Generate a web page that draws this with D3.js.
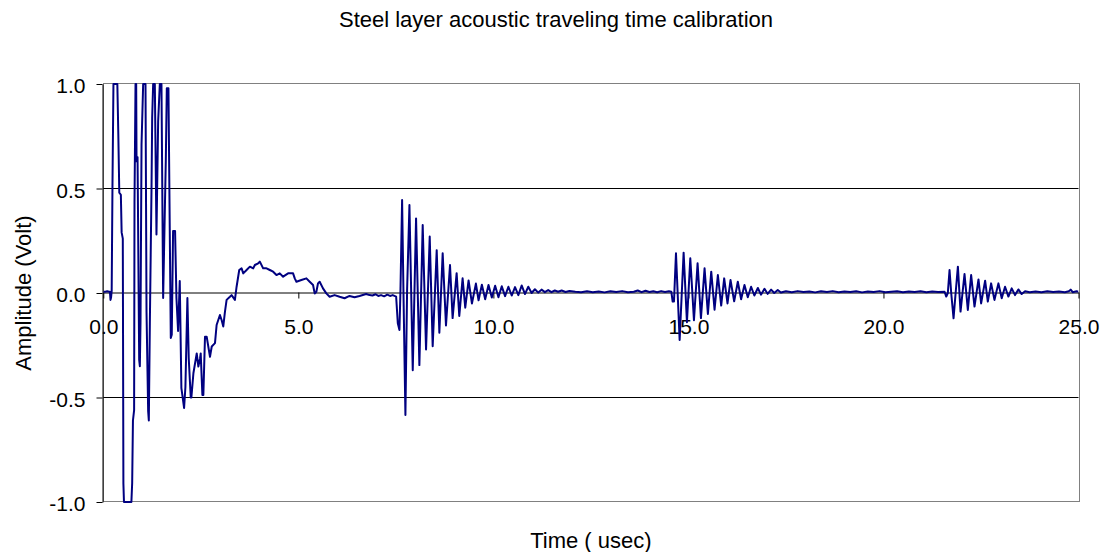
<!DOCTYPE html>
<html>
<head>
<meta charset="utf-8">
<script src="https://cdn.jsdelivr.net/npm/d3@7"></script>
<style>
  html, body { margin: 0; padding: 0; background: #fff; }
  svg { display: block; font-family: "Liberation Sans", Arial, sans-serif; }
</style>
</head>
<body>
<svg id="chart" width="1116" height="552"></svg>
<script>
// ---- Data: transducer signal, time in microseconds, amplitude in volts ----

// Excitation burst (amplifier saturates at +/-1 V)
const burstTime = [0.00, 0.05, 0.10, 0.15, 0.17, 0.185, 0.20, 0.215, 0.235, 0.26, 0.36, 0.385, 0.41, 0.45, 0.47, 0.50, 0.515, 0.53,
  0.72, 0.74, 0.76, 0.79, 0.80, 0.826, 0.843, 0.852, 0.878, 0.92, 0.937, 0.954, 0.98, 1.022, 1.082, 1.108, 1.133, 1.150, 1.167,
  1.193, 1.236, 1.253, 1.278, 1.321, 1.363, 1.406, 1.449, 1.491, 1.534, 1.602, 1.628, 1.670, 1.704, 1.730, 1.755, 1.789, 1.840,
  1.875, 1.917, 1.960, 2.002, 2.071, 2.105, 2.156, 2.19, 2.242, 2.258];
const burstAmp = [0.006, 0.006, 0.008, 0.006, 0.006, -0.033, -0.02, 0.01, 0.51, 1.0, 1.0, 0.76, 0.48, 0.47, 0.29, 0.26, -0.91, -1.0,
  -1.0, -0.91, -0.61, -0.56, 0.44, 1.0, 1.0, 0.63, 0.65, -0.32, -0.35, -0.14, 0.71, 1.0, 1.0, -0.09, -0.375, -0.566, -0.61,
  -0.15, 0.5, 0.84, 1.0, 1.0, 0.28, 0.82, 1.0, 1.0, -0.024, 0.63, 0.98, 0.98, 0.295, -0.215, -0.2, 0.297, 0.297,
  -0.024, -0.182, 0.057, -0.455, -0.55, -0.45, -0.024, -0.311, -0.5, -0.5];

// Recovery and slow positive hump
const recoveryTime = [2.31, 2.395, 2.437, 2.48, 2.497, 2.54, 2.565, 2.607, 2.65, 2.735, 2.78, 2.863, 2.905, 2.99, 3.033, 3.076,
  3.119, 3.161, 3.246, 3.289, 3.374, 3.417, 3.485, 3.545, 3.588, 3.673, 3.758, 3.843, 3.886, 3.971, 4.013, 4.098, 4.184, 4.269,
  4.354, 4.439, 4.524, 4.610, 4.737, 4.865, 4.908, 4.951, 5.078, 5.206, 5.291, 5.377, 5.419, 5.462, 5.504, 5.547, 5.632, 5.717,
  5.802, 5.930, 6.058, 6.185, 6.313, 6.441, 6.569, 6.739, 6.824, 6.90, 6.98, 7.05, 7.12, 7.20, 7.28, 7.35, 7.42, 7.507];
const recoveryAmp = [-0.384, -0.289, -0.352, -0.313, -0.289, -0.488, -0.488, -0.209, -0.209, -0.305, -0.256, -0.24, -0.153, -0.105, -0.129, -0.16,
  -0.089, -0.033, -0.018, -0.01, -0.033, 0.03, 0.11, 0.118, 0.094, 0.11, 0.126, 0.118, 0.134, 0.142, 0.15, 0.118, 0.118, 0.11,
  0.102, 0.086, 0.094, 0.078, 0.094, 0.094, 0.07, 0.054, 0.062, 0.07, 0.054, 0.038, -0.002, 0.006, 0.046, 0.054, 0.022, -0.002,
  -0.018, -0.01, -0.018, -0.025, -0.014, -0.02, -0.014, -0.005, -0.01, -0.012, -0.006, -0.014, -0.01, -0.016, -0.008, -0.014, -0.01, -0.017];

// First back-wall echo
const echo1Time = [7.55, 7.592, 7.618, 7.66, 7.694, 7.745, 7.788, 7.848, 7.933, 8.018, 8.103, 8.188, 8.274, 8.368, 8.444, 8.547,
  8.615, 8.700, 8.785, 8.888, 8.955, 9.058, 9.126, 9.211, 9.279, 9.364, 9.450, 9.552, 9.620, 9.705, 9.790, 9.875, 9.96, 10.045,
  10.13, 10.215, 10.30, 10.385, 10.47, 10.555, 10.64, 10.725, 10.81, 10.895, 10.98, 11.065, 11.15, 11.235, 11.32, 11.405, 11.49,
  11.575, 11.66, 11.75, 11.85, 11.95];
const echo1Amp = [-0.145, -0.177, 0.014, 0.445, 0.014, -0.584, 0.014, 0.421, -0.37, 0.357, -0.345, 0.325, -0.27, 0.27, -0.255, 0.205,
  -0.19, 0.19, -0.155, 0.134, -0.12, 0.095, -0.11, 0.07, -0.07, 0.06, -0.05, 0.045, -0.035, 0.04, -0.03, 0.038, -0.022, 0.035,
  -0.02, 0.032, -0.015, 0.03, -0.012, 0.028, -0.01, 0.036, -0.005, 0.03, 0.0, 0.018, 0.002, 0.016, 0.004, 0.014, 0.004,
  0.012, 0.006, 0.012, 0.005, 0.01];

// Quiet interval before the second echo
const gap1Time = [12.1, 12.25, 12.4, 12.55, 12.7, 12.85, 13.0, 13.15, 13.3, 13.45, 13.6, 13.7, 13.8, 13.9, 14.0, 14.1, 14.2, 14.3, 14.4, 14.5, 14.562];
const gap1Amp = [0.006, 0.004, 0.008, 0.004, 0.007, 0.003, 0.008, 0.005, 0.009, 0.004, 0.006, 0.012, 0.004, 0.011, 0.005, 0.008, 0.004, 0.009, 0.005, 0.008, 0.006];

// Second echo
const echo2Time = [14.596, 14.630, 14.681, 14.775, 14.877, 14.962, 15.048, 15.142, 15.235, 15.321, 15.414, 15.499, 15.585, 15.670,
  15.755, 15.840, 15.917, 16.002, 16.079, 16.173, 16.266, 16.351, 16.437, 16.522, 16.607, 16.69, 16.78, 16.86, 16.95, 17.03,
  17.12, 17.2, 17.29, 17.37];
const echo2Amp = [-0.041, -0.041, 0.19, -0.225, 0.193, -0.14, 0.166, -0.13, 0.142, -0.12, 0.118, -0.10, 0.102, -0.08,
  0.086, -0.06, 0.07, -0.05, 0.062, -0.04, 0.054, -0.03, 0.038, -0.02, 0.03, -0.012, 0.024, -0.008, 0.02, -0.004,
  0.016, 0.0, 0.014, 0.002];

// Quiet interval before the third echo
const gap2Time = [17.5, 17.65, 17.8, 17.95, 18.1, 18.25, 18.4, 18.55, 18.7, 18.85, 19.0, 19.15, 19.3, 19.45, 19.6, 19.75, 19.9,
  20.05, 20.2, 20.35, 20.5, 20.65, 20.8, 20.95, 21.1, 21.25, 21.4, 21.567];
const gap2Amp = [0.008, 0.004, 0.009, 0.005, 0.007, 0.003, 0.008, 0.005, 0.009, 0.004, 0.007, 0.005, 0.008, 0.003, 0.007, 0.005, 0.009,
  0.004, 0.006, 0.008, 0.004, 0.007, 0.005, 0.008, 0.004, 0.007, 0.005, 0.006];

// Third echo and tail of the record
const echo3Time = [21.61, 21.65, 21.694, 21.737, 21.797, 21.85, 21.908, 21.976, 22.078, 22.163, 22.248, 22.334, 22.436, 22.504,
  22.606, 22.675, 22.760, 22.845, 22.947, 23.032, 23.117, 23.203, 23.288, 23.373, 23.458, 23.544, 23.63, 23.75, 23.9, 24.05,
  24.2, 24.35, 24.5, 24.65, 24.75, 24.8, 24.85, 24.95, 25.0];
const echo3Amp = [-0.017, 0.0, 0.11, 0.0, -0.121, 0.0, 0.126, -0.089, 0.091, -0.081, 0.086, -0.065, 0.065, -0.05,
  0.059, -0.041, 0.046, -0.033, 0.046, -0.025, 0.03, -0.017, 0.022, -0.01, 0.017, -0.005, 0.008, 0.004, 0.007, 0.004,
  0.008, 0.005, 0.007, 0.004, 0.008, 0.016, 0.004, 0.008, 0.006];

// Axis ticks
const xTicks = [0, 5, 10, 15, 20, 25];
const yTicks = [-1.0, -0.5, 0.0, 0.5, 1.0];

const titleText = "Steel layer acoustic traveling time calibration";
const xTitle = "Time ( usec)";
const yTitle = "Amplitude (Volt)";

// ---- Assemble the trace ----
const segments = [
  [burstTime, burstAmp], [recoveryTime, recoveryAmp], [echo1Time, echo1Amp],
  [gap1Time, gap1Amp], [echo2Time, echo2Amp], [gap2Time, gap2Amp], [echo3Time, echo3Amp]
];
const trace = [];
segments.forEach(([ts, vs]) => ts.forEach((t, i) => trace.push({ t, v: vs[i] })));

// ---- Layout ----
const svg = d3.select("#chart");
const plot = { left: 103.3, right: 1078.5, top: 84, bottom: 502 };

const x = d3.scaleLinear().domain([0, 25]).range([plot.left, plot.right]);
const y = d3.scaleLinear().domain([-1, 1]).range([plot.bottom, plot.top]);
const crisp = v => Math.round(v) + 0.5;
const fmt = v => v.toFixed(1);

svg.append("defs").append("clipPath").attr("id", "plot-clip")
  .append("rect")
  .attr("x", plot.left).attr("y", plot.top - 1)
  .attr("width", plot.right - plot.left).attr("height", plot.bottom - plot.top + 2);

// Plot-area frame (grey)
svg.append("rect")
  .attr("x", crisp(plot.left)).attr("y", crisp(y(1)) - 1)
  .attr("width", crisp(plot.right) - crisp(plot.left))
  .attr("height", crisp(y(-1)) - crisp(y(1)))
  .attr("fill", "none").attr("stroke", "#808080").attr("stroke-width", 1);

// Horizontal gridlines
svg.append("g").selectAll("line")
  .data(yTicks.filter(v => v !== 1 && v !== -1 && v !== 0))
  .join("line")
  .attr("x1", plot.left).attr("x2", plot.right)
  .attr("y1", d => crisp(y(d)) - 1).attr("y2", d => crisp(y(d)) - 1)
  .attr("stroke", "#000").attr("stroke-width", 1);

// Y axis
const yAxis = svg.append("g")
  .attr("transform", `translate(${crisp(plot.left) - 1},0)`)
  .call(d3.axisLeft(y).tickValues(yTicks).tickFormat(fmt).tickSize(6).tickSizeOuter(0).tickPadding(11));
yAxis.select(".domain").attr("stroke", "#000");
yAxis.selectAll(".tick line").attr("stroke", "#000");
yAxis.selectAll(".tick text")
  .attr("font-size", 21).attr("font-family", "Liberation Sans, Arial, sans-serif")
  .attr("fill", "#000").attr("dy", "0.42em");

// X axis crossing at zero
const xAxis = svg.append("g")
  .attr("transform", `translate(0,${crisp(y(0)) - 1})`)
  .call(d3.axisBottom(x).tickValues(xTicks).tickFormat(fmt).tickSize(6).tickSizeOuter(0).tickPadding(21));
xAxis.select(".domain").attr("stroke", "#000");
xAxis.selectAll(".tick line").attr("stroke", "#000");
xAxis.selectAll(".tick text")
  .attr("font-size", 21).attr("font-family", "Liberation Sans, Arial, sans-serif")
  .attr("fill", "#000");

// Signal trace
const line = d3.line().x(d => x(d.t)).y(d => y(d.v));
svg.append("path")
  .datum(trace)
  .attr("clip-path", "url(#plot-clip)")
  .attr("d", line)
  .attr("fill", "none")
  .attr("stroke", "#000080")
  .attr("stroke-width", 2)
  .attr("stroke-linejoin", "round");

// Titles
svg.append("text")
  .attr("x", 556).attr("y", 26.5)
  .attr("text-anchor", "middle")
  .attr("font-size", 22).attr("fill", "#000")
  .text(titleText);

svg.append("text")
  .attr("x", (plot.left + plot.right) / 2).attr("y", 548)
  .attr("text-anchor", "middle")
  .attr("font-size", 22).attr("fill", "#000")
  .text(xTitle);

svg.append("text")
  .attr("transform", `translate(31,${y(0)}) rotate(-90)`)
  .attr("text-anchor", "middle")
  .attr("font-size", 22).attr("fill", "#000")
  .text(yTitle);
</script>
</body>
</html>
